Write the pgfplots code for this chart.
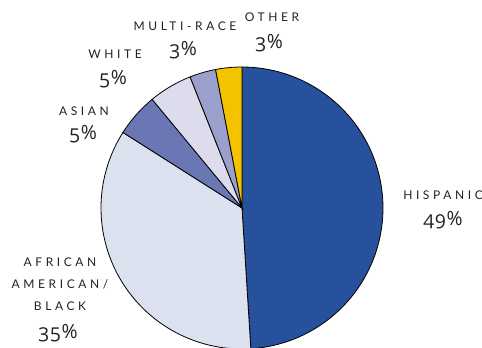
\documentclass[border=0pt]{standalone}
\usepackage{pgfplots}
\pgfplotsset{compat=1.18}
\usepackage{fontspec}
\setmainfont{Lato}
\newfontfamily\capfont[LetterSpace=30]{Lato}
\newfontfamily\numfont[Numbers=OldStyle,LetterSpace=3]{Open Sans}
\definecolor{chisp}{HTML}{27519C}
\definecolor{cafr}{HTML}{DCE1EF}
\definecolor{casian}{HTML}{6B77B5}
\definecolor{cwhite}{HTML}{DCDCEC}
\definecolor{cmulti}{HTML}{9A9FCC}
\definecolor{cother}{HTML}{F4C300}
\definecolor{ctext}{HTML}{222222}
\tikzset{
  lab/.style={font=\capfont\fontsize{12}{14}\selectfont, text=ctext, inner sep=0pt},
  pct/.style={font=\numfont\fontsize{19.5}{21}\selectfont, text=ctext, inner sep=0pt}
}
% shares (percent): Hispanic 49, African American/Black 35, Asian 5, White 5, Multi-race 3, Other 3
\begin{document}
\begin{tikzpicture}
\begin{axis}[
  scale only axis, width=482pt, height=348pt,
  xmin=0, xmax=482, ymin=0, ymax=348,
  hide axis, clip=true,
  every axis plot/.append style={draw=black, line width=0.8pt, samples=80},
]
% start angle 90, clockwise, 3.6 deg per percent
\addplot[fill=chisp, domain={90-3.6*49}:90] ({242+141*cos(x)},{140+141*sin(x)}) -- (axis cs:242,140) -- cycle;
\addplot[fill=cafr, domain={90-3.6*84}:{90-3.6*49}] ({242+141*cos(x)},{140+141*sin(x)}) -- (axis cs:242,140) -- cycle;
\addplot[fill=casian, domain={90-3.6*89}:{90-3.6*84}] ({242+141*cos(x)},{140+141*sin(x)}) -- (axis cs:242,140) -- cycle;
\addplot[fill=cwhite, domain={90-3.6*94}:{90-3.6*89}] ({242+141*cos(x)},{140+141*sin(x)}) -- (axis cs:242,140) -- cycle;
\addplot[fill=cmulti, domain={90-3.6*97}:{90-3.6*94}] ({242+141*cos(x)},{140+141*sin(x)}) -- (axis cs:242,140) -- cycle;
\addplot[fill=cother, domain={90-3.6*100}:{90-3.6*97}] ({242+141*cos(x)},{140+141*sin(x)}) -- (axis cs:242,140) -- cycle;

\node[lab] at (axis cs:272,331) {OTHER};
\node[pct] at (axis cs:269,305) {3\%};
\node[lab] at (axis cs:185,322) {MULTI-RACE};
\node[pct] at (axis cs:183,298) {3\%};
\node[lab] at (axis cs:115,294) {WHITE};
\node[pct] at (axis cs:113,269) {5\%};
\node[lab] at (axis cs:84,237) {ASIAN};
\node[pct] at (axis cs:83,214) {5\%};
\node[lab] at (axis cs:443,153) {HISPANIC};
\node[pct] at (axis cs:443,128) {49\%};
\node[lab] at (axis cs:60,86) {AFRICAN};
\node[lab] at (axis cs:60,64) {AMERICAN/};
\node[lab] at (axis cs:60,42) {BLACK};
\node[pct] at (axis cs:58,15) {35\%};
\end{axis}
\pgfresetboundingbox
\path[use as bounding box] (current axis.south west) rectangle (current axis.north east);
\end{tikzpicture}
\end{document}
